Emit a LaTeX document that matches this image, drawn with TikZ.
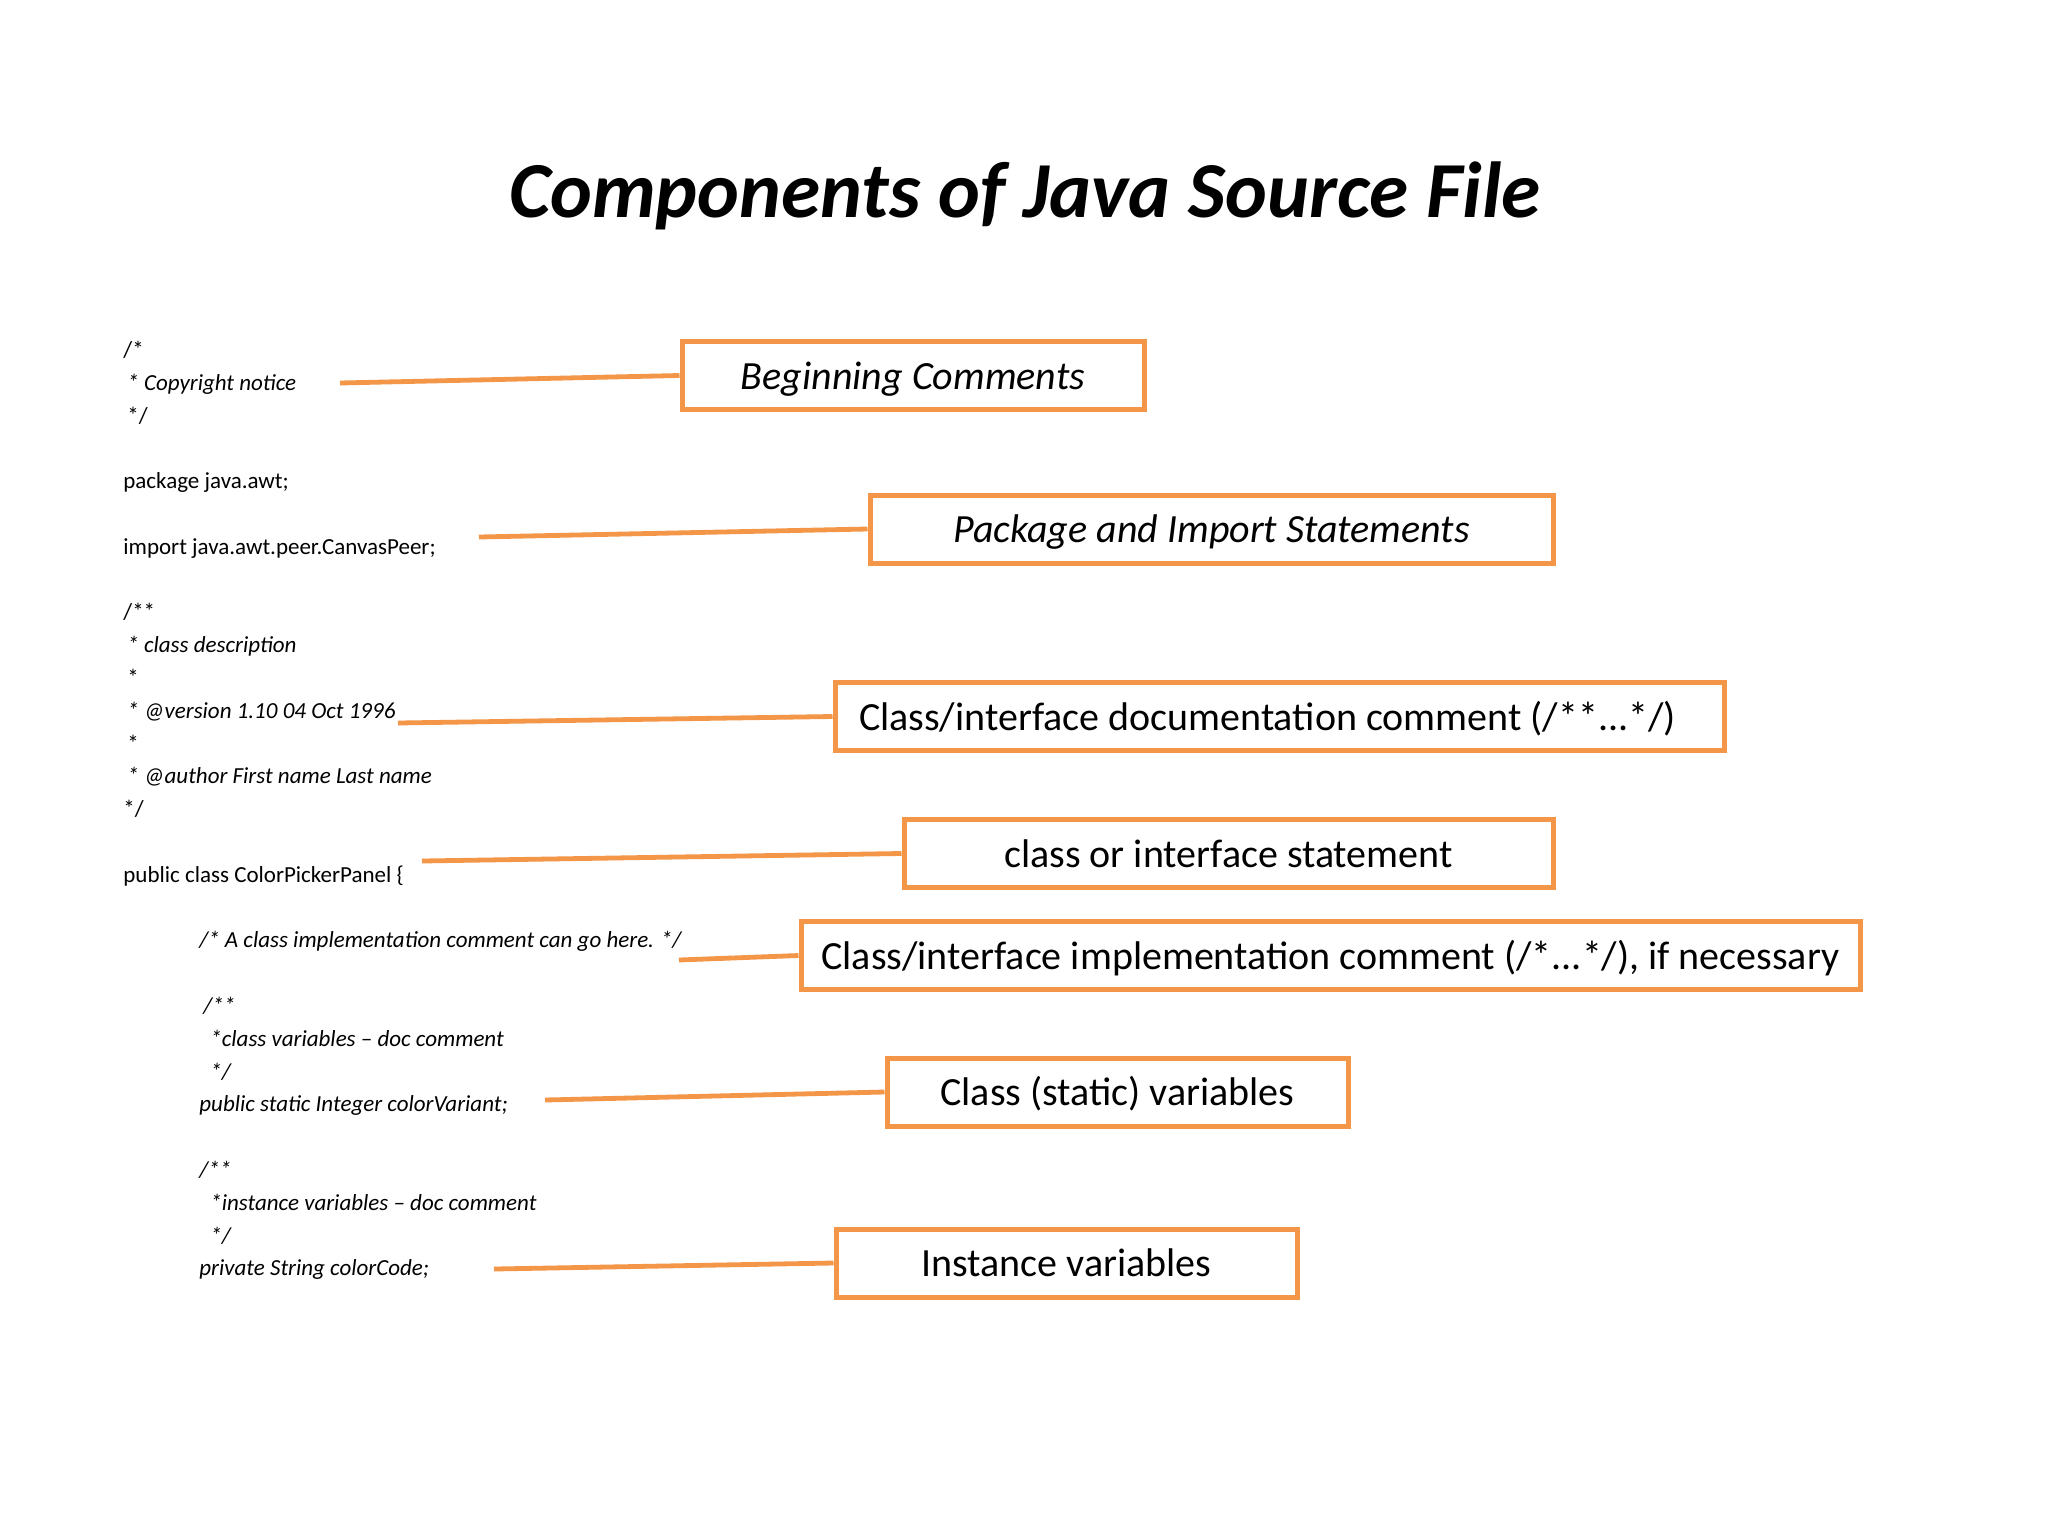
\documentclass[tikz,border=0pt]{standalone}
\usepackage{fontspec}
\setmainfont{Carlito}
\definecolor{org}{RGB}{244,150,72}
\begin{document}
\begin{tikzpicture}[x=0.5pt,y=-0.5pt,
  lbl/.style={draw=org, line width=2.5pt, fill=white, inner sep=0pt, minimum height=34pt, text height=13.5pt, text depth=0pt, font=\fontsize{20}{24}\selectfont},
  ilbl/.style={lbl, font=\fontsize{20}{24}\selectfont\itshape},
  code/.style={anchor=base west, inner sep=0pt, font=\fontsize{11.5}{14}\selectfont},
  icode/.style={code, font=\fontsize{11.5}{14}\selectfont\itshape},
  conn/.style={draw=org, line width=2.4pt},
  ttl/.style={anchor=base, inner sep=0pt, font=\fontsize{39.7}{46}\selectfont\bfseries\itshape}]
\useasboundingbox (0,0) rectangle (2048,1536);
\fill[white] (0,0) rectangle (2048,1536);

\node[ttl] (title) at (1025,217) {Components of Java Source File};

% code listing
\node[code]  (c0)  at (123,357.4) {/*};
\node[icode] (c1)  at (127,390.2) {* Copyright notice};
\node[code]  (c2)  at (127,423.0) {*/};
\node[code]  (c4)  at (123,488.6) {package java.awt;};
\node[code]  (c6)  at (123,554.2) {import java.awt.peer.CanvasPeer;};
\node[code]  (c8)  at (123,619.8) {/**};
\node[icode] (c9)  at (127,652.6) {* class description};
\node[code]  (c10) at (127,685.4) {*};
\node[icode] (c11) at (127,718.2) {* @version 1.10 04 Oct 1996};
\node[code]  (c12) at (127,751.0) {*};
\node[icode] (c13) at (127,783.8) {* @author First name Last name};
\node[code]  (c14) at (123,816.6) {*/};
\node[code]  (c16) at (123,882.2) {public class ColorPickerPanel \{};
\node[icode] (c18) at (199,947.8) {/* A class implementation comment can go here. */};
\node[icode] (c20) at (203,1013.4) {/**};
\node[icode] (c21) at (210,1046.2) {*class variables – doc comment};
\node[icode] (c22) at (210,1079.0) {*/};
\node[icode] (c23) at (199,1111.8) {public static Integer colorVariant;};
\node[icode] (c25) at (199,1177.4) {/**};
\node[icode] (c26) at (210,1210.2) {*instance variables – doc comment};
\node[icode] (c27) at (210,1243.0) {*/};
\node[icode] (c28) at (199,1275.8) {private String colorCode;};

% label boxes
\node[ilbl, minimum width=231pt]   (b1) at (913,375.5)   {Beginning Comments};
\node[ilbl, minimum width=341.5pt] (b2) at (1211.5,529)  {Package and Import Statements};
\node[lbl, minimum width=444.5pt]  (b3) at (1279.5,716.5) {Class/interface documentation comment (/**...*/)\hspace*{12pt}};
\node[lbl, minimum width=324.5pt]  (b4) at (1228.5,853.5) {class or interface statement};
\node[lbl, minimum width=529.5pt]  (b5) at (1330.5,955.5) {Class/interface implementation comment (/*...*/), if necessary};
\node[lbl, minimum width=230.5pt]  (b6) at (1117.5,1092)  {Class (static) variables};
\node[lbl, minimum width=230.5pt]  (b7) at (1066.5,1263)  {Instance variables};

% connectors
\coordinate (s1) at (340,383);
\coordinate (s2) at (479,537);
\coordinate (s3) at (398,723);
\coordinate (s4) at (422,861);
\coordinate (s5) at (679,960);
\coordinate (s6) at (545,1100);
\coordinate (s7) at (494,1269);
\draw[conn] (s1) -- (b1.west);
\draw[conn] (s2) -- (b2.west);
\draw[conn] (s3) -- (b3.west);
\draw[conn] (s4) -- (b4.west);
\draw[conn] (s5) -- (b5.west);
\draw[conn] (s6) -- (b6.west);
\draw[conn] (s7) -- (b7.west);
\end{tikzpicture}
\end{document}
